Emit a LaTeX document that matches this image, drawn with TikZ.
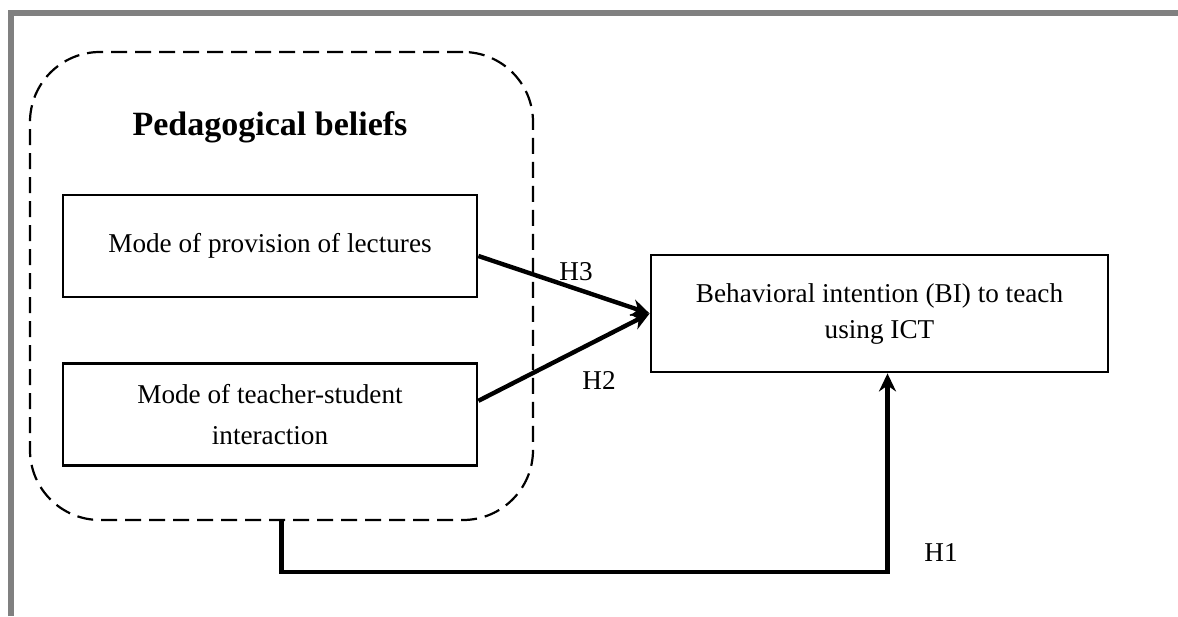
\documentclass[tikz,border=0pt]{standalone}
\usepackage{fontspec}
\setmainfont{Liberation Serif}
\usepackage{tikz}
\usetikzlibrary{arrows.meta,positioning}
\definecolor{pbframe}{RGB}{128,128,128}

\begin{document}
\begin{tikzpicture}[
  x=0.5pt, y=-0.5pt,
  node distance=32pt and 87pt,
  group/.style={rectangle, rounded corners=35pt, draw=black, line width=1.1pt,
    dash pattern=on 8pt off 4pt, minimum width=251.5pt, minimum height=234pt},
  box/.style={rectangle, draw=black, line width=1.4pt, minimum width=207pt,
    minimum height=51pt, align=center, font=\fontsize{13.6}{16.5}\selectfont},
  target/.style={rectangle, draw=black, line width=1.4pt, minimum width=228.5pt,
    minimum height=58.5pt, align=center, font=\fontsize{13.6}{16.5}\selectfont},
  hlab/.style={font=\fontsize{13.6}{16.5}\selectfont, inner sep=0pt},
  arr/.style={-{Stealth[length=9pt, width=8.5pt]}, line width=2.2pt, black}]

\useasboundingbox (0,0) rectangle (1178,616);
\draw[pbframe, line width=3pt] (11,616) -- (11,13) -- (1178,13);

\node[group] (grp) at (281.5,286) {};
\node[font=\fontsize{17}{20}\bfseries\selectfont] (title) at (270,127) {Pedagogical beliefs};
\node[box] (lect) at (270,246) {Mode of provision of lectures};
\node[box, below=of lect] (inter) {Mode of teacher-student\\[4pt] interaction};
\node[target] (bi) at (879.5,313.5) {Behavioral intention (BI) to teach\\[1.5pt] using ICT};
\node[hlab] (h3) at (576,272) {H3};
\node[hlab] (h2) at (599,380) {H2};
\node[hlab] (h1) at (941,553) {H1};

\draw[arr] ([yshift=-5pt]lect.east) -- (bi.west);
\draw[arr] ([yshift=7pt]inter.east) -- (bi.west);
\draw[arr] (grp.south) -- ++(0,51) -| ([xshift=4pt]bi.south);
\end{tikzpicture}
\end{document}
